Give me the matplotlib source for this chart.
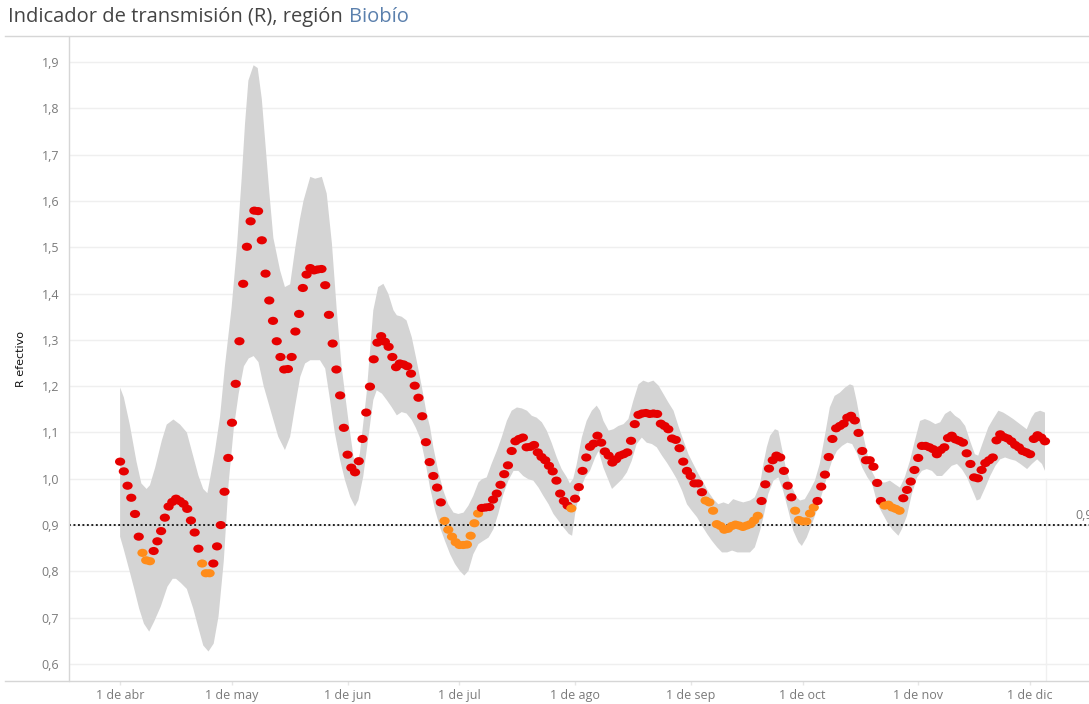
import numpy as np
import pandas as pd
import matplotlib
matplotlib.use("Agg")
import matplotlib.pyplot as plt
import matplotlib.dates as mdates
from matplotlib.path import Path
from matplotlib.transforms import Affine2D
from matplotlib.lines import Line2D

plt.rcParams['font.family'] = ['Open Sans', 'DejaVu Sans']

# ---------------- data ----------------
start_date = "2020-04-01"

r_values = [
    1.037, 1.016, 0.985, 0.959, 0.924, 0.875, 0.840, 0.824, 0.822, 0.844,
    0.865, 0.887, 0.916, 0.940, 0.950, 0.957, 0.952, 0.946, 0.935, 0.910,
    0.884, 0.849, 0.817, 0.796, 0.796, 0.817, 0.854, 0.900, 0.972, 1.045,
    1.121, 1.205, 1.297, 1.421, 1.501, 1.556, 1.579, 1.578, 1.515, 1.443,
    1.385, 1.341, 1.297, 1.263, 1.236, 1.237, 1.263, 1.318, 1.356, 1.412,
    1.441, 1.455, 1.450, 1.452, 1.453, 1.418, 1.354, 1.292, 1.236, 1.180,
    1.110, 1.052, 1.024, 1.014, 1.038, 1.086, 1.143, 1.199, 1.258, 1.294,
    1.308, 1.296, 1.285, 1.263, 1.241, 1.249, 1.247, 1.243, 1.227, 1.201,
    1.175, 1.135, 1.079, 1.036, 1.006, 0.981, 0.949, 0.909, 0.890, 0.875,
    0.863, 0.857, 0.857, 0.858, 0.877, 0.904, 0.925, 0.937, 0.938, 0.939,
    0.955, 0.968, 0.987, 1.010, 1.029, 1.060, 1.081, 1.086, 1.089, 1.068,
    1.069, 1.073, 1.057, 1.047, 1.040, 1.028, 1.016, 0.996, 0.968, 0.952,
    0.942, 0.936, 0.957, 0.982, 1.017, 1.046, 1.069, 1.076, 1.093, 1.078,
    1.059, 1.050, 1.035, 1.042, 1.050, 1.053, 1.057, 1.082, 1.118, 1.138,
    1.141, 1.142, 1.140, 1.141, 1.140, 1.119, 1.114, 1.107, 1.087, 1.084,
    1.066, 1.037, 1.017, 1.006, 0.990, 0.990, 0.971, 0.953, 0.949, 0.931,
    0.902, 0.898, 0.890, 0.892, 0.898, 0.901, 0.899, 0.896, 0.899, 0.902,
    0.910, 0.920, 0.952, 0.988, 1.022, 1.040, 1.050, 1.046, 1.017, 0.985,
    0.960, 0.931, 0.911, 0.908, 0.908, 0.925, 0.938, 0.952, 0.983, 1.009,
    1.047, 1.086, 1.109, 1.114, 1.119, 1.132, 1.136, 1.126, 1.099, 1.060,
    1.040, 1.040, 1.026, 0.991, 0.952, 0.942, 0.944, 0.938, 0.935, 0.931,
    0.958, 0.976, 0.994, 1.019, 1.045, 1.071, 1.071, 1.068, 1.064, 1.053,
    1.062, 1.068, 1.088, 1.093, 1.085, 1.082, 1.078, 1.055, 1.032, 1.003,
    1.001, 1.019, 1.034, 1.040, 1.046, 1.083, 1.096, 1.090, 1.087, 1.081,
    1.073, 1.068, 1.060, 1.057, 1.053, 1.086, 1.094, 1.089, 1.081,
]

# periods where the upper bound is below 1 (orange points)
orange_ranges = [
    ("2020-04-07", "2020-04-09"),
    ("2020-04-23", "2020-04-25"),
    ("2020-06-27", "2020-07-06"),
    ("2020-07-31", "2020-07-31"),
    ("2020-09-05", "2020-09-19"),
    ("2020-09-29", "2020-10-04"),
    ("2020-10-23", "2020-10-27"),
]

# confidence band (days since start_date)
upper_days = [0, 1, 2.6, 4.4, 5.7, 7.1, 8, 9.4, 11.2, 12.5, 14.3, 16.1, 17.9, 19.6, 21, 22.3, 23.4,
              24.1, 25.4, 26.8, 28.1, 29.9, 31.3, 32.6, 33.5, 34.4, 35.8, 36.9, 38, 39, 40, 41.1,
              42.9, 44.2, 45.6, 47, 48.2, 49.2, 51, 52.3, 54.1, 55.4, 56.8, 58.1, 59.4, 61.2,
              62.6, 63.4, 64.3, 66.1, 67.9, 69.2, 70.6, 71.9, 73.3, 74.2, 75.5, 76.8, 78.2,
              79.5, 80.9, 82.2, 83.1, 84, 85.3, 86.7, 88, 89.4, 90.7, 92.1, 93.4, 94.7, 96.1,
              97, 98.3, 99.6, 101, 102.3, 103.7, 105, 106.4, 107.7, 109.1, 110.4, 111.7, 113.1,
              114.4, 115.7, 117.1, 118.4, 119.8, 120.6, 121.5, 122.4, 123.8, 125.1, 126.5,
              127.8, 128.7, 129.6, 131, 132.3, 133.6, 135, 136.3, 137.6, 139, 140.3, 141.6,
              143, 144.4, 145.7, 147, 148.4, 149.7, 151.1, 152.4, 153.7, 155.1, 156.4, 157.8,
              159.1, 160.4, 161.8, 163.1, 164.4, 165.8, 167.1, 168.9, 170.2, 171.6, 172.5,
              173.4, 174.3, 175.6, 176.5, 177.4, 178.7, 180, 181.4, 182.3, 183.6, 184.9, 186.3,
              187.6, 188.9, 190.3, 191.6, 193, 194.4, 195.7, 196.6, 197.5, 198.8, 200.2, 201.5,
              202.9, 204, 205.1, 206.4, 207.8, 209.1, 210.4, 211.8, 213.1, 214.5, 215.8, 217.1,
              218.6, 219.9, 221.2, 222.6, 223.9, 225.2, 226.6, 227.9, 229.2, 230.1, 231.5,
              232.8, 234.1, 235.5, 236.8, 238.2, 239.5, 241.3, 243.1, 244.4, 245.3, 246.7, 248]
upper_vals = [1.197, 1.176, 1.117, 1.037, 0.990, 0.978, 0.986, 1.024, 1.083, 1.117, 1.128, 1.117,
              1.100, 1.049, 1.007, 0.978, 0.969, 0.999, 1.058, 1.134, 1.243, 1.370, 1.497, 1.649,
              1.767, 1.860, 1.893, 1.887, 1.82, 1.72, 1.62, 1.52, 1.45, 1.414, 1.42, 1.50, 1.56,
              1.601, 1.652, 1.648, 1.652, 1.616, 1.508, 1.364, 1.242, 1.127, 1.047, 1.026, 1.055,
              1.184, 1.364, 1.414, 1.421, 1.400, 1.364, 1.353, 1.350, 1.342, 1.306, 1.256, 1.199,
              1.141, 1.112, 1.068, 1.017, 0.974, 0.945, 0.927, 0.924, 0.927, 0.942, 0.963, 0.992,
              0.999, 1.003, 1.032, 1.060, 1.089, 1.125, 1.147, 1.154, 1.152, 1.147, 1.136, 1.132,
              1.122, 1.104, 1.078, 1.046, 1.021, 1.003, 0.990, 1.000, 1.030, 1.089, 1.125, 1.147,
              1.158, 1.147, 1.125, 1.104, 1.107, 1.114, 1.118, 1.129, 1.168, 1.204, 1.212, 1.208,
              1.212, 1.201, 1.183, 1.165, 1.147, 1.114, 1.082, 1.053, 1.032, 1.010, 0.992, 0.971,
              0.956, 0.945, 0.949, 0.945, 0.956, 0.952, 0.949, 0.953, 0.960, 0.988, 1.032, 1.068,
              1.093, 1.107, 1.104, 1.068, 1.017, 0.985, 0.960, 0.953, 0.956, 0.974, 0.996, 1.032,
              1.089, 1.154, 1.179, 1.186, 1.197, 1.204, 1.201, 1.168, 1.111, 1.060, 1.017, 0.996,
              0.992, 0.992, 0.996, 0.988, 0.981, 1.003, 1.039, 1.082, 1.125, 1.129, 1.125, 1.118,
              1.122, 1.140, 1.147, 1.136, 1.129, 1.114, 1.082, 1.053, 1.050, 1.082, 1.111, 1.129,
              1.147, 1.143, 1.136, 1.129, 1.118, 1.107, 1.132, 1.143, 1.147, 1.143]

lower_days = [0, 1, 2.4, 3.8, 5.1, 6.4, 7.8, 9.1, 10.9, 12.7, 14.1, 15, 16.3, 17.9, 19.6, 21, 22.3,
              23.7, 25.1, 26.4, 27.8, 29.1, 30.5, 31.8, 33.2, 34.5, 35.8, 37.1, 38.5, 40.6, 42.4,
              44.2, 45.6, 46.9, 48.3, 49.6, 51, 53.6, 55, 56.3, 57.6, 59, 60.3, 61.7, 63, 63.9,
              65.2, 66.6, 67.9, 68.8, 70.2, 71.5, 72.8, 74.2, 75.5, 76.8, 78.2, 79.3, 80.6, 81.8,
              83.1, 84.5, 85.8, 87.1, 88.5, 89.8, 91.1, 92.3, 93.4, 94.7, 96.1, 97.4, 98.8, 100.1,
              101.4, 102.8, 104.1, 105.5, 106.8, 108.1, 109.5, 110.8, 112.2, 113.5, 114.9, 116.2,
              117.6, 118.9, 120.3, 121.2, 122, 123.3, 124.7, 126, 127.4, 128.3, 129.6, 131,
              131.9, 133.2, 134.6, 135.9, 137.2, 138.5, 139.9, 141.2, 142.6, 143.9, 145.3, 146.6,
              148, 149.3, 150.7, 152, 153.3, 154.7, 156, 157.4, 158.7, 160.1, 161.4, 162.8,
              164.1, 165.5, 167.1, 168.9, 170.2, 171.6, 172.5, 173.8, 175.2, 176.5, 177.8, 179.2,
              180.5, 181.9, 182.8, 184.1, 185.5, 186.8, 188.2, 189.5, 190.9, 192.2, 193.6, 195,
              196.3, 197.7, 199, 200.4, 201.7, 203.1, 204.5, 205.8, 207.1, 208.7, 209.6, 211,
              212.3, 213.7, 215, 216.3, 217.7, 219, 220.4, 221.7, 223, 224.4, 225.7, 227.1,
              228.4, 229.7, 230.6, 232, 233.3, 234.7, 236, 237.3, 238.7, 240.1, 241.4, 243.2,
              244.5, 245.9, 247.2, 248]
lower_vals = [0.875, 0.847, 0.805, 0.762, 0.720, 0.687, 0.670, 0.691, 0.724, 0.767, 0.784, 0.784,
              0.775, 0.762, 0.720, 0.678, 0.640, 0.627, 0.644, 0.703, 0.822, 0.990, 1.110, 1.184,
              1.243, 1.260, 1.265, 1.252, 1.200, 1.141, 1.091, 1.062, 1.091, 1.155, 1.220, 1.249,
              1.256, 1.256, 1.238, 1.170, 1.098, 1.040, 0.997, 0.961, 0.940, 0.954, 1.005, 1.091,
              1.170, 1.191, 1.184, 1.170, 1.155, 1.137, 1.144, 1.141, 1.127, 1.110, 1.085, 1.039,
              0.981, 0.931, 0.895, 0.866, 0.837, 0.816, 0.801, 0.791, 0.801, 0.837, 0.859, 0.866,
              0.873, 0.891, 0.924, 0.967, 0.996, 1.017, 1.017, 1.006, 0.999, 0.996, 0.981, 0.963,
              0.945, 0.924, 0.909, 0.895, 0.881, 0.877, 0.924, 0.974, 1.003, 1.017, 1.046, 1.060,
              1.024, 0.996, 0.978, 0.988, 0.999, 1.014, 1.039, 1.075, 1.089, 1.078, 1.075, 1.068,
              1.050, 1.035, 1.017, 0.999, 0.974, 0.945, 0.931, 0.917, 0.899, 0.881, 0.866, 0.852,
              0.841, 0.841, 0.845, 0.841, 0.841, 0.841, 0.852, 0.888, 0.917, 0.967, 0.996, 1.003,
              0.974, 0.931, 0.888, 0.863, 0.855, 0.873, 0.902, 0.931, 0.967, 1.003, 1.039, 1.060,
              1.071, 1.078, 1.075, 1.053, 1.024, 1.003, 0.988, 0.945, 0.924, 0.905, 0.890, 0.877,
              0.891, 0.920, 0.967, 1.003, 1.017, 1.021, 1.017, 1.006, 1.006, 1.017, 1.028, 1.032,
              1.021, 1.003, 0.978, 0.953, 0.956, 0.981, 1.006, 1.028, 1.042, 1.046, 1.042, 1.039,
              1.032, 1.021, 1.032, 1.042, 1.032, 1.017]

month_ticks = ["2020-04-01", "2020-05-01", "2020-06-01", "2020-07-01", "2020-08-01",
               "2020-09-01", "2020-10-01", "2020-11-01", "2020-12-01"]
month_labels = ["1 de abr", "1 de may", "1 de jun", "1 de jul", "1 de ago",
                "1 de sep", "1 de oct", "1 de nov", "1 de dic"]
y_ticks = [0.6, 0.7, 0.8, 0.9, 1.0, 1.1, 1.2, 1.3, 1.4, 1.5, 1.6, 1.7, 1.8, 1.9]
ref_value = 0.9

# ---------------- colours / styles ----------------
RED = "#e60000"
ORANGE = "#ff8c1a"
BAND = "#d4d4d4"
GRID = "#efefef"
AXIS = "#d6d6d6"
TICK_TXT = "#7a7a7a"

W, H = 1089, 704
fig = plt.figure(figsize=(W / 100, H / 100), dpi=100)
left_px, right_px, top_px, bottom_px = 69, 1089, 37, 681
ax = fig.add_axes([left_px / W, 1 - bottom_px / H, (right_px - left_px) / W, (bottom_px - top_px) / H])

start = pd.Timestamp(start_date)
dates = pd.date_range(start, periods=len(r_values), freq="D")
xnum = mdates.date2num(dates)

colors = []
for d in dates:
    c = RED
    for a, b in orange_ranges:
        if pd.Timestamp(a) <= d <= pd.Timestamp(b):
            c = ORANGE
    colors.append(c)

def to_num(days):
    return mdates.date2num(start + pd.to_timedelta(np.asarray(days, dtype=float), unit="D"))

ux = to_num(upper_days)
lx = to_num(lower_days)
poly_x = np.concatenate([ux, lx[::-1]])
poly_y = np.concatenate([upper_vals, lower_vals[::-1]])
ax.fill(poly_x, poly_y, color=BAND, lw=0, zorder=1)

# grid
for yv in y_ticks:
    ax.axhline(yv, color=GRID, lw=1, zorder=0)

x0 = mdates.date2num(start - pd.Timedelta(days=13.7))
x1 = mdates.date2num(start + pd.Timedelta(days=259.8))
ax.set_xlim(x0, x1)
ax.set_ylim(0.5633, 1.954)

# faint vertical line at end of data
xend = xnum[-1] + 0.3
ax.plot([xend, xend], [0.5633, 1.0], color="#f0f0f0", lw=1, zorder=0)

# reference line
ax.axhline(ref_value, color="#222222", lw=1.4, ls=(0, (1, 1.3)), zorder=2)
ax.annotate("0,9", xy=((1075 - left_px) / (right_px - left_px), ref_value),
            xycoords=("axes fraction", "data"), xytext=(0, 2), textcoords="offset points",
            fontsize=9, color=TICK_TXT, ha="left", va="bottom", annotation_clip=False)

# points
ell = Path.unit_circle().transformed(Affine2D().scale(1.0, 0.8))
ax.scatter(xnum, r_values, c=colors, marker=ell, s=54, linewidths=0, zorder=3)

# axes styling
for s in ["top", "right", "bottom"]:
    ax.spines[s].set_visible(False)
ax.spines["left"].set_color(AXIS)
ax.spines["left"].set_linewidth(1)

ax.set_yticks(y_ticks)
ax.set_yticklabels([f"{v:.1f}".replace(".", ",") for v in y_ticks])
ax.tick_params(axis="y", length=0, pad=7, labelsize=9, labelcolor=TICK_TXT)
ax.set_xticks(mdates.date2num(pd.to_datetime(month_ticks)))
ax.set_xticklabels(month_labels)
ax.tick_params(axis="x", length=3, width=1, color="#e6e6e6", pad=2.5, labelsize=9, labelcolor=TICK_TXT)

ax.set_ylabel("R efectivo", fontsize=8, color="#111111",
              family=["Liberation Sans Narrow", "DejaVu Sans"])
ax.yaxis.set_label_coords(-(left_px - 26) / (right_px - left_px), 0.5)

# frame lines (top under title, bottom axis)
fig.add_artist(Line2D([5 / W, 1], [1 - 36 / H] * 2, color=AXIS, lw=1))
fig.add_artist(Line2D([5 / W, 1], [1 - bottom_px / H] * 2, color=AXIS, lw=1))

# title
t1 = fig.text(8 / W, 1 - 17 / H, "Indicador de transmisión (R), región", fontsize=14.5,
              color="#444444", va="center", ha="left")
fig.canvas.draw()
bb = t1.get_window_extent(fig.canvas.get_renderer())
fig.text((bb.x1 + 6) / W, 1 - 17 / H, "Biobío", fontsize=14.5, color="#5b80ad",
         va="center", ha="left")

fig.savefig("out.png", dpi=100)
